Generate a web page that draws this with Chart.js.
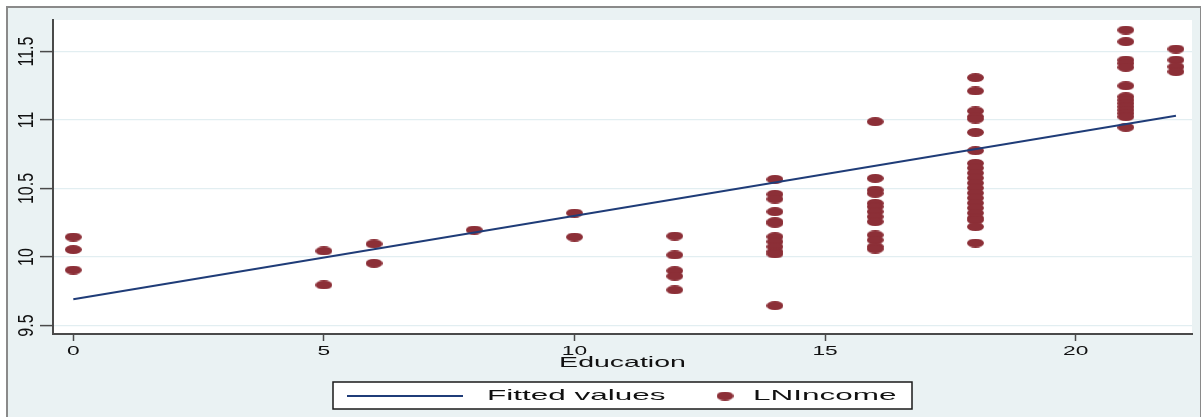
<!DOCTYPE html>
<html>
<head>
<meta charset="utf-8">
<script src="https://cdn.jsdelivr.net/npm/chart.js@4/dist/chart.umd.min.js"></script>
<style>
  html, body { margin: 0; padding: 0; background: #ffffff; }
  #wrap { width: 1201px; height: 417px; position: relative; }
</style>
</head>
<body>
<div id="wrap"><canvas id="c" width="1201" height="417"></canvas></div>
<script>
// Years of education for each observation
const education = [
  0, 0, 0,
  5, 5,
  6, 6,
  8,
  10, 10,
  12, 12, 12, 12, 12,
  14, 14, 14, 14, 14, 14, 14, 14, 14, 14, 14, 14,
  16, 16, 16, 16, 16, 16, 16, 16, 16, 16, 16, 16, 16,
  18, 18, 18, 18, 18, 18, 18, 18, 18, 18, 18, 18, 18, 18, 18, 18, 18, 18, 18, 18, 18, 18,
  21, 21, 21, 21, 21, 21, 21, 21, 21, 21, 21, 21, 21, 21,
  22, 22, 22, 22
];
// Log of income for each observation
const lnIncome = [
  10.146, 10.054, 9.905,
  10.044, 9.796,
  10.095, 9.954,
  10.197,
  10.321, 10.146,
  10.153, 10.015, 9.900, 9.860, 9.760,
  10.567, 10.458, 10.423, 10.331, 10.258, 10.246, 10.148, 10.112, 10.075, 10.039, 10.022, 9.645,
  10.988, 10.574, 10.489, 10.465, 10.392, 10.367, 10.331, 10.294, 10.258, 10.161, 10.124, 10.075, 10.058,
  11.309, 11.212, 11.066, 11.024, 11.007, 10.910, 10.776, 10.684, 10.650, 10.613, 10.577, 10.540,
  10.504, 10.467, 10.431, 10.394, 10.358, 10.321, 10.285, 10.270, 10.221, 10.102,
  11.657, 11.572, 11.438, 11.414, 11.385, 11.250, 11.170, 11.146, 11.122, 11.097, 11.073, 11.049, 11.024, 10.947,
  11.518, 11.438, 11.389, 11.353
];
// Fitted regression line end points
const fitEducation = [0, 22];
const fitLnIncome = [9.691, 11.031];

// Axis ticks
const xTickValues = [0, 5, 10, 15, 20];
const xTickLabels = ['0', '5', '10', '15', '20'];
const yTickValues = [9.5, 10, 10.5, 11, 11.5];
const yTickLabels = ['9.5', '10', '10.5', '11', '11.5'];

const xTitle = 'Education';
const seriesNames = ['Fitted values', 'LNIncome'];

const MAROON = '#8c2f37';
const NAVY = '#1f3c78';
const AXIS = '#4a4a4a';
const BG = '#eaf2f3';
const FONT = '"Liberation Sans", Arial, Helvetica, sans-serif';

// Flattened ellipse marker
function makeMarker(w, h) {
  const m = document.createElement('canvas');
  m.width = w; m.height = h;
  const g = m.getContext('2d');
  g.fillStyle = MAROON;
  g.beginPath();
  g.ellipse(w / 2, h / 2, w / 2, h / 2, 0, 0, Math.PI * 2);
  g.fill();
  return m;
}
const marker = makeMarker(17, 9);

const scatterPoints = education.map((x, i) => ({ x: x, y: lnIncome[i] }));
const fitPoints = fitEducation.map((x, i) => ({ x: x, y: fitLnIncome[i] }));

// Draw horizontally stretched text
function stretchedText(ctx, text, x, y, size, sx, align) {
  ctx.save();
  ctx.translate(x, y);
  ctx.scale(sx, 1);
  ctx.font = size + 'px ' + FONT;
  ctx.textAlign = align || 'center';
  ctx.textBaseline = 'middle';
  ctx.fillText(text, 0, 0);
  ctx.restore();
}

const framePlugin = {
  id: 'frame',
  beforeDraw(chart) {
    const ctx = chart.ctx;
    const a = chart.chartArea;
    ctx.save();
    ctx.fillStyle = '#ffffff';
    ctx.fillRect(0, 0, chart.width, chart.height);
    ctx.fillStyle = BG;
    ctx.fillRect(7, 7, chart.width - 8, chart.height - 7);
    ctx.strokeStyle = '#8a8a8a';
    ctx.lineWidth = 2;
    ctx.strokeRect(7, 7, chart.width - 7, chart.height + 5);
    ctx.fillStyle = '#ffffff';
    ctx.fillRect(a.left, a.top, a.right - a.left, a.bottom - a.top);
    ctx.restore();
  }
};

const labelsPlugin = {
  id: 'labels',
  afterDraw(chart) {
    const ctx = chart.ctx;
    const xs = chart.scales.x, ys = chart.scales.y;
    const a = chart.chartArea;
    ctx.save();
    ctx.fillStyle = '#111111';
    // x tick labels
    xTickValues.forEach((v, i) => {
      stretchedText(ctx, xTickLabels[i], xs.getPixelForValue(v), 351, 13, 1.75, 'center');
    });
    // x axis title
    stretchedText(ctx, xTitle, (a.left + a.right) / 2, 363, 15, 1.9, 'center');
    // y tick labels, vertical
    yTickValues.forEach((v, i) => {
      ctx.save();
      ctx.translate(27, ys.getPixelForValue(v));
      ctx.scale(1.35, 1);
      ctx.rotate(-Math.PI / 2);
      ctx.font = '16px ' + FONT;
      ctx.textAlign = 'center';
      ctx.textBaseline = 'middle';
      ctx.fillText(yTickLabels[i], 0, 0);
      ctx.restore();
    });
    // legend
    const ly = 396;
    ctx.fillStyle = '#ffffff';
    ctx.fillRect(333, 382, 579, 27);
    ctx.strokeStyle = '#1a1a1a';
    ctx.lineWidth = 1.5;
    ctx.strokeRect(333, 382, 579, 27);
    ctx.strokeStyle = NAVY;
    ctx.lineWidth = 2;
    ctx.beginPath();
    ctx.moveTo(347, ly);
    ctx.lineTo(463, ly);
    ctx.stroke();
    ctx.drawImage(marker, 725 - 8.5, ly - 4.5);
    ctx.fillStyle = '#111111';
    stretchedText(ctx, chart.data.datasets[0].label, 487, ly, 15, 2.1, 'left');
    stretchedText(ctx, chart.data.datasets[1].label, 753, ly, 15, 2.1, 'left');
    ctx.restore();
  }
};

new Chart(document.getElementById('c'), {
  type: 'scatter',
  data: {
    datasets: [
      {
        type: 'line',
        label: seriesNames[0],
        data: fitPoints,
        borderColor: NAVY,
        borderWidth: 2,
        pointRadius: 0,
        fill: false,
        order: 0
      },
      {
        type: 'scatter',
        label: seriesNames[1],
        data: scatterPoints,
        pointStyle: marker,
        pointRadius: 8,
        order: 1
      }
    ]
  },
  options: {
    responsive: false,
    animation: false,
    devicePixelRatio: 1,
    layout: { padding: { left: 7, right: 0, top: 20, bottom: 0 } },
    plugins: {
      legend: { display: false },
      tooltip: { enabled: false }
    },
    scales: {
      x: {
        type: 'linear',
        position: 'bottom',
        min: -0.405,
        max: 22.32,
        afterBuildTicks: (s) => { s.ticks = xTickValues.map(v => ({ value: v })); },
        afterFit: (s) => { s.height = 83; },
        ticks: { display: false },
        grid: {
          drawOnChartArea: false,
          drawTicks: true,
          tickLength: 7,
          tickColor: AXIS,
          tickWidth: 1.5
        },
        border: { display: true, color: AXIS, width: 2 }
      },
      y: {
        type: 'linear',
        min: 9.438,
        max: 11.730,
        afterBuildTicks: (s) => { s.ticks = yTickValues.map(v => ({ value: v })); },
        afterFit: (s) => { s.width = 46; },
        ticks: { display: false },
        grid: {
          drawOnChartArea: true,
          color: '#e2eef1',
          lineWidth: 1.2,
          drawTicks: true,
          tickLength: 13,
          tickColor: AXIS,
          tickWidth: 1.5
        },
        border: { display: true, color: AXIS, width: 2 }
      }
    }
  },
  plugins: [framePlugin, labelsPlugin]
});
</script>
</body>
</html>
